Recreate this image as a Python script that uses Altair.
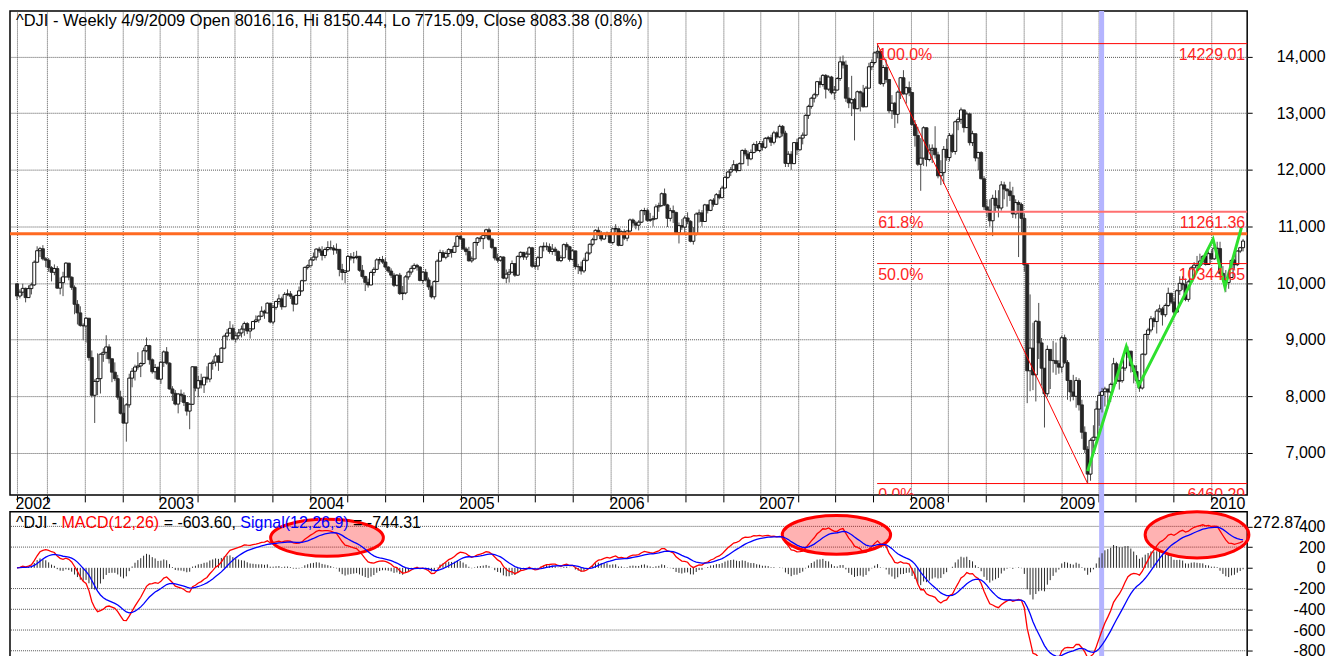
import altair as alt
import pandas as pd

# ---------------- weekly ^DJI bars (Friday dates from 2002-01-18) ----------------
close_2002 = [9772, 9840, 9907, 9744, 9903, 9968, 10369, 10572, 10607, 10428, 10404, 10272, 10191, 10257, 9911, 10007, 10110, 10353, 10104, 9925, 9625, 9474, 9254, 9243, 9380, 8685, 8019, 8264, 8313, 8745, 8778, 8873, 8664, 8427, 8313, 7986, 7701, 7528, 7850, 8322, 8444, 8518, 8537, 8579, 8805, 8896, 8646, 8434, 8511, 8304]
high_2002 = [9990, 9890, 9990, 9920, 9960, 10010, 10400, 10650, 10640, 10670, 10460, 10440, 10300, 10330, 10300, 10100, 10200, 10370, 10350, 10120, 9960, 9700, 9590, 9290, 9400, 9380, 8810, 8300, 8760, 8760, 8850, 9080, 8920, 8670, 8600, 8380, 8100, 7970, 7880, 8400, 8500, 8560, 8780, 8600, 8860, 9040, 8910, 8670, 8570, 8530]
low_2002 = [9700, 9730, 9780, 9660, 9740, 9800, 9950, 10360, 10460, 10400, 10280, 10200, 10030, 10140, 9900, 9800, 9770, 10100, 10050, 9880, 9450, 9270, 9230, 8990, 8950, 8630, 7980, 7530, 8020, 8050, 8610, 8660, 8580, 8250, 8270, 7940, 7680, 7520, 7200, 7800, 8160, 8280, 8470, 8340, 8560, 8780, 8560, 8400, 8310, 8290]

close_2003 = [8602, 8785, 8587, 8131, 8054, 7864, 8041, 8018, 7891, 7740, 7860, 8522, 8146, 8277, 8203, 8338, 8306, 8583, 8605, 8713, 8601, 8850, 9063, 9117, 9201, 9012, 9070, 9120, 9188, 9285, 9154, 9191, 9322, 9349, 9416, 9503, 9472, 9645, 9313, 9572, 9675, 9722, 9582, 9801, 9810, 9769, 9629, 9782, 9863, 10042, 10278, 10305]
high_2003 = [8620, 8810, 8870, 8600, 8180, 8110, 8060, 8120, 8070, 7900, 7880, 8530, 8440, 8360, 8400, 8340, 8530, 8600, 8650, 8760, 8730, 8870, 9090, 9190, 9330, 9270, 9140, 9190, 9250, 9320, 9310, 9200, 9330, 9430, 9430, 9590, 9530, 9660, 9650, 9610, 9690, 9800, 9760, 9840, 9890, 9860, 9770, 9800, 9940, 10060, 10290, 10330]
low_2003 = [8220, 8520, 8560, 8120, 7920, 7840, 7700, 7900, 7830, 7660, 7420, 7850, 8090, 7990, 8140, 8060, 8240, 8250, 8470, 8530, 8450, 8590, 8830, 8990, 9110, 8990, 8950, 9010, 9040, 9070, 9100, 9020, 9180, 9300, 9300, 9400, 9370, 9470, 9290, 9270, 9530, 9620, 9530, 9580, 9770, 9720, 9500, 9620, 9770, 9840, 10030, 10240]

close_2004 = [10410, 10459, 10601, 10568, 10488, 10593, 10628, 10619, 10584, 10596, 10240, 10187, 10213, 10471, 10442, 10452, 10473, 10226, 10117, 10013, 9967, 10188, 10243, 10410, 10416, 10372, 10283, 10213, 10140, 9962, 10140, 9815, 9825, 10110, 10195, 10260, 10313, 10284, 10047, 10193, 10055, 9933, 9758, 10027, 10388, 10539, 10457, 10522, 10592, 10543, 10650, 10827, 10783]
high_2004 = [10450, 10540, 10610, 10640, 10650, 10630, 10740, 10750, 10670, 10700, 10600, 10340, 10230, 10500, 10530, 10550, 10570, 10480, 10320, 10130, 10080, 10220, 10280, 10440, 10460, 10480, 10440, 10300, 10260, 10180, 10160, 10180, 9950, 10140, 10220, 10310, 10350, 10340, 10300, 10210, 10250, 10100, 9960, 10050, 10420, 10590, 10580, 10560, 10620, 10600, 10720, 10850, 10870]
low_2004 = [10300, 10390, 10400, 10530, 10400, 10440, 10560, 10580, 10500, 10520, 10120, 10050, 10000, 10200, 10400, 10350, 10420, 10200, 10080, 9860, 9920, 9960, 10130, 10230, 10330, 10340, 10250, 10180, 10090, 9930, 9940, 9790, 9700, 9800, 10060, 10150, 10240, 10220, 10030, 9990, 10030, 9880, 9730, 9710, 10020, 10380, 10440, 10420, 10460, 10450, 10540, 10640, 10760]

close_2005 = [10604, 10558, 10393, 10427, 10716, 10796, 10785, 10842, 10941, 10774, 10630, 10443, 10404, 10461, 10088, 10158, 10193, 10345, 10140, 10472, 10543, 10461, 10513, 10623, 10298, 10303, 10449, 10641, 10651, 10641, 10558, 10600, 10559, 10397, 10447, 10679, 10642, 10420, 10569, 10292, 10287, 10215, 10403, 10531, 10686, 10766, 10932, 10878, 10779, 10876, 10883, 10718]
high_2005 = [10790, 10640, 10640, 10470, 10730, 10810, 10830, 10850, 10960, 10980, 10800, 10640, 10520, 10480, 10470, 10240, 10250, 10400, 10340, 10490, 10560, 10550, 10560, 10650, 10640, 10370, 10480, 10660, 10720, 10720, 10700, 10690, 10640, 10580, 10490, 10700, 10720, 10660, 10600, 10570, 10340, 10380, 10450, 10560, 10700, 10800, 10950, 10990, 10920, 10900, 10910, 10890]
low_2005 = [10580, 10490, 10380, 10360, 10420, 10660, 10730, 10600, 10790, 10750, 10600, 10400, 10360, 10380, 10070, 10000, 10010, 10180, 10110, 10130, 10440, 10410, 10410, 10500, 10270, 10250, 10230, 10440, 10560, 10580, 10520, 10500, 10480, 10380, 10370, 10440, 10580, 10380, 10400, 10240, 10160, 10150, 10180, 10380, 10500, 10650, 10760, 10830, 10740, 10760, 10820, 10700]

close_2006 = [10959, 10960, 10667, 10907, 10794, 10919, 11115, 11062, 11022, 11076, 11280, 11280, 11109, 11120, 11138, 11347, 11367, 11578, 11381, 11144, 11279, 11248, 10892, 11015, 10989, 11150, 11091, 10739, 10868, 11220, 11240, 11088, 11381, 11284, 11464, 11392, 11561, 11508, 11679, 11867, 11961, 12002, 12090, 11986, 12108, 12343, 12280, 12194, 12307, 12446, 12343, 12463]
high_2006 = [10970, 11040, 10960, 10930, 10950, 10940, 11140, 11140, 11100, 11110, 11300, 11330, 11320, 11240, 11190, 11390, 11420, 11600, 11670, 11400, 11330, 11370, 11260, 11070, 11130, 11190, 11250, 11110, 10990, 11250, 11300, 11290, 11400, 11390, 11480, 11500, 11590, 11640, 11720, 11890, 11980, 12050, 12170, 12110, 12130, 12360, 12380, 12340, 12360, 12480, 12510, 12510]
low_2006 = [10680, 10900, 10650, 10660, 10760, 10740, 10890, 11000, 10950, 10930, 11060, 11200, 11080, 11080, 11000, 11120, 11260, 11350, 11360, 10990, 11090, 11060, 10880, 10700, 10940, 10880, 11040, 10720, 10680, 10840, 11070, 11000, 11100, 11230, 11270, 11350, 11380, 11480, 11500, 11670, 11840, 11890, 11980, 11950, 11980, 12100, 12240, 12070, 12170, 12290, 12320, 12310]

close_2007 = [12398, 12556, 12566, 12487, 12653, 12581, 12768, 12647, 12114, 12276, 12110, 12481, 12354, 12560, 12612, 12962, 13121, 13265, 13326, 13557, 13507, 13668, 13425, 13639, 13360, 13409, 13612, 13907, 13851, 13265, 13182, 13240, 13079, 13379, 13358, 13113, 13443, 13820, 13896, 14066, 14093, 13522, 13807, 13595, 13043, 13177, 12981, 13372, 13626, 13340, 13451, 13366]
high_2007 = [12510, 12580, 12600, 12620, 12690, 12680, 12800, 12790, 12690, 12330, 12330, 12490, 12550, 12580, 12660, 12980, 13150, 13290, 13360, 13570, 13630, 13690, 13690, 13670, 13660, 13480, 13640, 14000, 14020, 13930, 13460, 13660, 13270, 13400, 13400, 13500, 13480, 13890, 13950, 14090, 14200, 14100, 13850, 13940, 13590, 13320, 13200, 13400, 13640, 13760, 13470, 13560]
low_2007 = [12340, 12370, 12520, 12420, 12450, 12550, 12560, 12590, 12050, 12050, 12000, 12100, 12260, 12340, 12450, 12600, 12900, 13080, 13190, 13290, 13450, 13470, 13260, 13390, 13330, 13240, 13400, 13570, 13790, 13200, 13090, 12950, 12520, 13070, 13030, 13100, 13120, 13440, 13760, 13860, 13970, 13500, 13470, 13540, 13000, 12900, 12740, 12820, 13250, 13330, 13170, 13300]

close_2008 = [12800, 12606, 12099, 12207, 12743, 12182, 12348, 12381, 12266, 11894, 11951, 12361, 12216, 12609, 12325, 12849, 12892, 13058, 12746, 12987, 12480, 12638, 12210, 12307, 11843, 11347, 11289, 11101, 11497, 11371, 11326, 11734, 11660, 11628, 11544, 11221, 11422, 11388, 11143, 10325, 8451, 8852, 8379, 9325, 8944, 8497, 8046, 8829, 8635, 8630, 8579, 8516]
high_2008 = [13340, 12880, 12760, 12560, 12770, 12750, 12450, 12450, 12770, 12320, 12170, 12420, 12550, 12650, 12640, 12870, 12930, 13100, 13060, 13030, 13010, 12690, 12640, 12320, 12330, 11890, 11480, 11480, 11560, 11640, 11640, 11800, 11790, 11670, 11790, 11700, 11480, 11460, 11420, 11220, 10330, 9800, 9300, 9350, 9650, 9030, 8500, 8900, 8830, 8980, 8950, 8640]
low_2008 = [12780, 12410, 12070, 11630, 12070, 12060, 12150, 12120, 12200, 11850, 11730, 11750, 12160, 12150, 12300, 12270, 12700, 12810, 12660, 12740, 12430, 12420, 12150, 11990, 11830, 11290, 11170, 11000, 10830, 11250, 11160, 11280, 11480, 11350, 11450, 11150, 11140, 10460, 10900, 10200, 7880, 8090, 8110, 7910, 8660, 8190, 7450, 7990, 8130, 8420, 8380, 8400]

close_2009 = [9035, 8599, 8281, 8078, 8001, 8281, 7850, 7366, 7063, 6627, 7224, 7278, 7776, 8018, 8083, 8131, 8076, 8212, 8575, 8269, 8277, 8500, 8763, 8799, 8540, 8438, 8281, 8147, 8744, 9093, 9172, 9370, 9321, 9506, 9544, 9441, 9605, 9820, 9665, 9488, 9865, 9996, 9972, 9713, 10023, 10270, 10318, 10310, 10389, 10472, 10329, 10520, 10428]
high_2009 = [9070, 9090, 8640, 8290, 8380, 8340, 8320, 7940, 7470, 7120, 7260, 7490, 7920, 8080, 8150, 8170, 8100, 8240, 8680, 8610, 8510, 8530, 8800, 8880, 8800, 8550, 8550, 8280, 8760, 9110, 9210, 9420, 9400, 9540, 9620, 9580, 9640, 9920, 9830, 9740, 9890, 10120, 10120, 10080, 10060, 10300, 10370, 10480, 10520, 10490, 10500, 10560, 10580]
low_2009 = [8420, 8570, 7940, 7910, 7930, 7800, 7750, 7250, 7000, 6470, 6510, 7080, 7230, 7480, 7715, 7820, 7780, 7900, 8200, 8220, 8120, 8240, 8450, 8680, 8420, 8230, 8270, 8080, 8120, 8720, 9000, 9130, 9220, 9110, 9480, 9250, 9400, 9580, 9630, 9430, 9480, 9790, 9880, 9680, 9670, 10020, 10230, 10200, 10260, 10320, 10310, 10320, 10420]

close_2010 = [10618, 10610, 10173, 10067, 10012, 10099, 10402, 10325, 10566, 10625, 10742]
high_2010 = [10650, 10730, 10730, 10300, 10230, 10160, 10420, 10430, 10580, 10640, 10780]
low_2010 = [10410, 10550, 10150, 10020, 9840, 9900, 10090, 10250, 10300, 10530, 10560]

first_open = 9988
first_bar = "2002-01-18"

# annotations
title_text = "^DJI - Weekly 4/9/2009 Open 8016.16, Hi 8150.44, Lo 7715.09, Close 8083.38 (0.8%)"
cursor_date = "2009-04-09"
resistance_level = 10870
fib_pct = ["100.0%", "61.8%", "50.0%", "0.0%"]
fib_level = [14229.01, 11261.36, 10344.65, 6460.29]
fib_label = ["14229.01", "11261.36", "10344.65", "6460.29"]
fib_start, fib_low_date = "2007-10-11", "2009-03-06"
green_dates = ["2009-03-06", "2009-06-08", "2009-07-08", "2010-01-05", "2010-02-03", "2010-03-15"]
green_price = [6680, 8880, 8190, 10776, 9930, 10980]
ellipse_dates = ["2004-02-11", "2007-07-04", "2009-11-27"]
ellipse_macd = [290, 318, 318]
ellipse_w = [113, 104, 90]
ellipse_h = [37, 37, 40]
price_ticks = [7000, 8000, 9000, 10000, 11000, 12000, 13000, 14000]
macd_ticks = [400, 200, 0, -200, -400, -600, -800]
macd_grid = [400, 200, -200, -400, -600, -800]
macd_last_label = "272.87"

FONT = "Liberation Sans"
PRICE_DOMAIN = [6260, 14805]
MACD_DOMAIN = [-1000, 540]
MACD_BAND_TOP = 704  # band runs on up through the date strip above the MACD panel


def ms(d):
    return int(pd.Timestamp(d).value // 10**6)


closes = close_2002 + close_2003 + close_2004 + close_2005 + close_2006 + close_2007 + close_2008 + close_2009 + close_2010
highs = high_2002 + high_2003 + high_2004 + high_2005 + high_2006 + high_2007 + high_2008 + high_2009 + high_2010
lows = low_2002 + low_2003 + low_2004 + low_2005 + low_2006 + low_2007 + low_2008 + low_2009 + low_2010
dates = pd.date_range(first_bar, periods=len(closes), freq="W-FRI")
opens = [first_open] + closes[:-1]

df = pd.DataFrame({"t": [ms(d) for d in dates], "o": opens, "c": closes, "h": highs, "l": lows})
df["h"] = df[["h", "o", "c"]].max(axis=1)
df["l"] = df[["l", "o", "c"]].min(axis=1)

s = pd.Series(closes, dtype=float)
macd = s.ewm(span=12, adjust=False).mean() - s.ewm(span=26, adjust=False).mean()
sig = macd.ewm(span=9, adjust=False).mean()
df["macd"] = macd.values
df["sig"] = sig.values
df["hist"] = (macd - sig).values
df["zero"] = 0

X_DOMAIN = [ms("2002-01-01"), ms("2010-03-29")]
xs = alt.Scale(type="utc", domain=X_DOMAIN, nice=False, padding=0)
ys = alt.Scale(domain=PRICE_DOMAIN, nice=False, zero=False, padding=0)
yms = alt.Scale(domain=MACD_DOMAIN, nice=False, zero=False, padding=0)

qticks = [ms(first_bar)] + [ms(f"{y}-{m:02d}-01") for y in range(2002, 2011) for m in (1, 4, 7, 10)
                             if not (y == 2002 and m == 1) and (y < 2010 or m == 1)]

xaxis = alt.Axis(values=qticks, labelExpr="utcFormat(datum.value, '%m') == '01' ? utcFormat(datum.value, '%Y') : ''",
                 grid=True, gridDash=[1, 1], gridColor="#555555", ticks=True, tickSize=7, tickColor="black",
                 domain=False, labelAlign="left", labelBaseline="alphabetic", labelOffset=-2, labelPadding=7,
                 labelFontSize=16, labelFont=FONT, labelColor="black", labelOverlap=False, labelFlush=False,
                 labelBound=False, title=None)
yaxis = alt.Axis(orient="right", values=price_ticks, labelExpr="format(datum.value, ',')",
                 grid=True, gridDash=[1, 1], gridColor="#555555",
                 tickSize=5, tickColor="black", domain=False, labelAlign="right", labelBaseline="middle",
                 labelPadding=73, labelFontSize=16, labelFont=FONT, labelColor="black", title=None,
                 labelOverlap=False)
ymaxis = alt.Axis(orient="right", values=macd_ticks,
                  labelExpr="datum.value < 0 ? '-' + format(-datum.value, 'd') : format(datum.value, 'd')",
                  grid=False, tickSize=5, tickColor="black", domain=False, labelAlign="right",
                  labelBaseline="middle", labelPadding=73, labelFontSize=16, labelFont=FONT,
                  labelColor="black", title=None, labelOverlap=False)


def X(f):
    return alt.X(f"{f}:T", scale=xs, axis=xaxis)


def Y(f):
    return alt.Y(f"{f}:Q", scale=ys, axis=yaxis)


def XM(f):
    return alt.X(f"{f}:T", scale=xs, axis=None)


def YM(f):
    return alt.Y(f"{f}:Q", scale=yms, axis=ymaxis)


# ---------------- price panel ----------------
base = alt.Chart(df)
band_df = pd.DataFrame({"t": [ms(cursor_date)], "top": [PRICE_DOMAIN[1]], "bot": [PRICE_DOMAIN[0]],
                        "mtop": [MACD_BAND_TOP], "mbot": [MACD_DOMAIN[0]]})
band = alt.Chart(band_df).mark_bar(size=5, color="#b4b4ff").encode(x=X("t"), y=Y("top"), y2="bot")
wicks = base.mark_rule(color="#4a4a4a", strokeWidth=1).encode(x=X("t"), y=Y("l"), y2="h")
up = "datum.c >= datum.o"
bodies = base.mark_bar(size=3, strokeWidth=0.9).encode(
    x=X("t"), y=Y("o"), y2="c",
    fill=alt.condition(up, alt.value("white"), alt.value("#262626")),
    stroke=alt.condition(up, alt.value("black"), alt.value("#262626")),
)
orange_df = pd.DataFrame({"t0": [X_DOMAIN[0]], "t1": [X_DOMAIN[1]], "lvl": [resistance_level]})
orange = alt.Chart(orange_df).mark_bar(size=3, orient="horizontal", color="#ff6a22").encode(
    x=X("t0"), x2="t1", y=Y("lvl"))
fib_df = pd.DataFrame({"t": [ms(fib_start)] * 4, "t2": [X_DOMAIN[1]] * 4, "lvl": fib_level,
                       "pct": fib_pct, "val": fib_label})
is618 = "datum.pct == '61.8%'"
fib = alt.Chart(fib_df).mark_rule().encode(
    x=X("t"), x2="t2", y=Y("lvl"),
    color=alt.condition(is618, alt.value("#ff7070"), alt.value("#ff0000")),
    strokeWidth=alt.condition(is618, alt.value(2), alt.value(1)),
)
diag_df = pd.DataFrame({"t": [ms(fib_start)], "t2": [ms(fib_low_date)], "y": [fib_level[0]], "y2": [fib_level[3]]})
diag = alt.Chart(diag_df).mark_rule(color="#ff0000", strokeWidth=1).encode(x=X("t"), x2="t2", y=Y("y"), y2="y2")
green_df = pd.DataFrame({"t": [ms(d) for d in green_dates], "p": green_price})
green = alt.Chart(green_df).mark_line(color="#2ee02e", strokeWidth=3).encode(x=X("t"), y=Y("p"))
fib_txt_l = alt.Chart(fib_df).mark_text(align="left", baseline="top", dx=1, dy=3, color="#ff2424",
                                        fontSize=16, font=FONT, clip=True).encode(x=X("t"), y=Y("lvl"), text="pct:N")
fib_txt_r = alt.Chart(fib_df).mark_text(align="right", baseline="top", dx=-2, dy=3, color="#ff2424",
                                        fontSize=16, font=FONT, clip=True).encode(x=X("t2"), y=Y("lvl"), text="val:N")
title = alt.Chart(pd.DataFrame({"s": [title_text]})).mark_text(
    align="left", baseline="alphabetic", fontSize=16.5, font=FONT, color="black"
).encode(x=alt.value(6), y=alt.value(15), text="s:N")

price = alt.layer(band, wicks, bodies, orange, fib, diag, green, fib_txt_l, fib_txt_r, title).properties(
    width=1240, height=485)

# ---------------- MACD panel ----------------
grid_df = pd.DataFrame({"g": macd_grid})
mgrid = alt.Chart(grid_df).mark_rule(color="#555555", strokeDash=[1, 1], strokeWidth=1).encode(y=YM("g"))
mband = alt.Chart(band_df).mark_bar(size=5, color="#b4b4ff").encode(x=XM("t"), y=YM("mtop"), y2="mbot")
ell_df = pd.DataFrame({"t": [ms(d) for d in ellipse_dates], "v": ellipse_macd, "k": ["a", "b", "c"]})
ell_paths = [f"M-1,0A1,{h / w:.3f},0,1,0,1,0A1,{h / w:.3f},0,1,0,-1,0Z" for w, h in zip(ellipse_w, ellipse_h)]
ellipses = alt.Chart(ell_df).mark_point(filled=True, fill="#ff0000", fillOpacity=0.3, stroke="#ff0000",
                                        strokeOpacity=1, strokeWidth=3, opacity=1).encode(
    x=XM("t"), y=YM("v"),
    shape=alt.Shape("k:N", scale=alt.Scale(domain=["a", "b", "c"], range=ell_paths), legend=None),
    size=alt.Size("k:N", scale=alt.Scale(domain=["a", "b", "c"], range=[w * w for w in ellipse_w]), legend=None),
)
mbase = alt.Chart(df)
hist = mbase.mark_rule(color="#2a2a2a", strokeWidth=1).encode(x=XM("t"), y=YM("hist"), y2="zero")
mline = mbase.mark_line(color="#ff0000", strokeWidth=1.3).encode(x=XM("t"), y=YM("macd"))
sline = mbase.mark_line(color="#0000ff", strokeWidth=1.3).encode(x=XM("t"), y=YM("sig"))

pieces = [("^DJI -", 6, "black"), ("MACD(12,26)", 51.7, "#ff0000"), ("= -603.60,", 154.0, "black"),
          ("Signal(12,26,9)", 230.9, "#0000ff"), ("= -744.31", 343.9, "black")]
mtitles = [alt.Chart(pd.DataFrame({"s": [txt]})).mark_text(
    align="left", baseline="alphabetic", fontSize=16, font=FONT, color=col
).encode(x=alt.value(px), y=alt.value(16), text="s:N") for txt, px, col in pieces]
last_lbl = alt.Chart(pd.DataFrame({"s": [macd_last_label]})).mark_text(
    align="left", baseline="alphabetic", fontSize=16, font=FONT, color="black"
).encode(x=alt.value(1246), y=alt.value(16), text="s:N")

macd_panel = alt.layer(mgrid, mband, ellipses, hist, mline, sline, *mtitles, last_lbl).properties(
    width=1240, height=160)

chart = alt.vconcat(price, macd_panel, spacing=17, bounds="flush").properties(
    padding={"left": 0, "top": 1.25, "right": 0, "bottom": 0},
    background="white",
).configure_view(stroke="black", strokeWidth=1.5)

chart.save("out.html", embed_options={"renderer": "svg", "actions": False})
